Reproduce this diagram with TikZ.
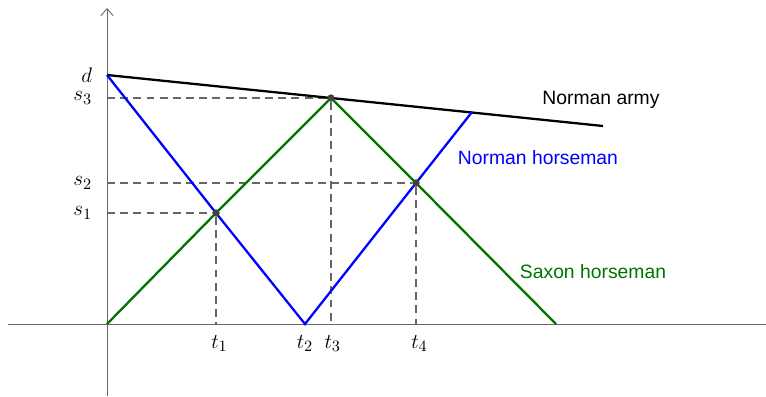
\documentclass[tikz,border=0pt]{standalone}
\usepackage{fontspec}
\setsansfont{Liberation Sans}
\usetikzlibrary{arrows.meta, positioning}

\begin{document}
\begin{tikzpicture}[
        x = 0.02cm, y = 0.02cm,
        axis/.style = {draw = black!60, line width = 0.5pt},
        guide/.style = {draw = black!60, line width = 0.6pt, dash pattern = on 4.5pt off 3pt},
        track/.style = {line width = 1.3pt},
        dot/.style = {circle, fill = black!75, inner sep = 0pt, minimum size = 4pt},
        tick/.style = {font = \fontsize{13}{15}\selectfont},
        caption/.style = {font = \sffamily\fontsize{11}{13}\selectfont}
    ]
      \useasboundingbox (-107,-72) rectangle (659,324);

      % axes
      \coordinate (O) at (0,0);
      \coordinate (xl) at (-99,0);
      \coordinate (xr) at (659,0);
      \coordinate (yb) at (0,-72);
      \coordinate (yt) at (0,316);
      \draw[axis] (xl) -- (xr);
      \draw[axis, -{Straight Barb[length = 4pt, width = 7pt]}] (yb) -- (yt);

      % turning points
      \coordinate (d) at (0,249);
      \coordinate (army) at (496,198);
      \coordinate (b2) at (198,0);
      \coordinate (b3) at (365,212);
      \coordinate (g3) at (449,0);
      \node[dot] (p3) at (224,226) {};
      \node[dot] (p1) at (109,111) {};
      \node[dot] (p2) at (309,141) {};

      % guide lines
      \coordinate (y1) at (0,111);
      \coordinate (y2) at (0,141);
      \coordinate (y3) at (0,226);
      \coordinate (x1) at (109,0);
      \coordinate (x3) at (224,0);
      \coordinate (x4) at (309,0);
      \draw[guide] (y1) -- (p1) -- (x1);
      \draw[guide] (y2) -- (p2) -- (x4);
      \draw[guide] (y3) -- (p3) -- (x3);

      % tracks
      \draw[track, black] (d) -- (p3.center) -- (army);
      \draw[track, blue] (d) -- (p1.center) -- (b2) -- (p2.center) -- (b3);
      \draw[track, green!45!black] (O) -- (p1.center) -- (p3.center) -- (p2.center) -- (g3);
      \node[dot] at (p1) {};
      \node[dot] at (p2) {};
      \node[dot] at (p3) {};

      % labels
      \node[tick, left = 5pt of d] (ld) {$d$};
      \node[tick, left = 5pt of y3] (ls3) {$s_3$};
      \node[tick, left = 5pt of y2] (ls2) {$s_2$};
      \node[tick, left = 5pt of y1] (ls1) {$s_1$};
      \node[tick, below = 3pt of x1, xshift = 2pt] (lt1) {$t_1$};
      \node[tick, below = 3pt of b2] (lt2) {$t_2$};
      \node[tick, below = 3pt of x3, xshift = 1pt] (lt3) {$t_3$};
      \node[tick, below = 3pt of x4, xshift = 2pt] (lt4) {$t_4$};

      \node[caption, black] (narmy) at (494,224) {Norman army};
      \node[caption, blue] (nhorse) at (431,166) {Norman horseman};
      \node[caption, green!45!black] (shorse) at (486,52) {Saxon horseman};
    \end{tikzpicture}
\end{document}
